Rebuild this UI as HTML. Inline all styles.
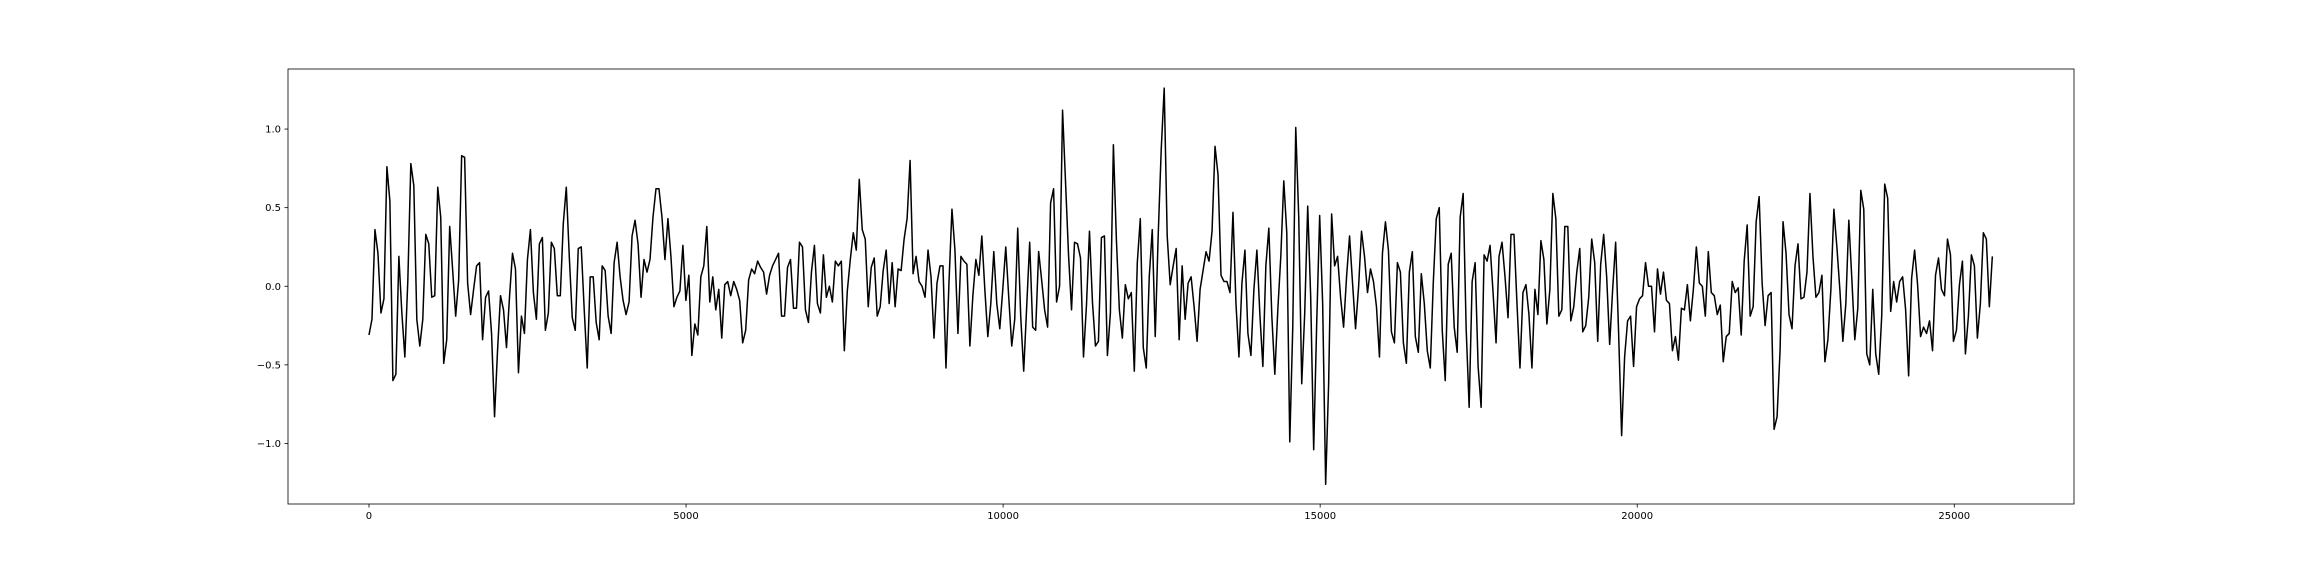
<!DOCTYPE html>
<html><head><meta charset="utf-8"><style>
html,body{margin:0;padding:0;background:#fff;}
svg{display:block;font-family:"DejaVu Sans","Liberation Sans",sans-serif;}
</style></head><body>
<svg id="chart" width="2304" height="576" viewBox="0 0 2304 576" xmlns="http://www.w3.org/2000/svg">
<rect x="0" y="0" width="2304" height="576" fill="#fff"/>
<g id="plot"></g>
</svg>
<script>
const xTicks = [0, 5000, 10000, 15000, 20000, 25000];
const xTickLabels = ["0", "5000", "10000", "15000", "20000", "25000"];
const yTicks = [-1.0, -0.5, 0.0, 0.5, 1.0];
const yTickLabels = ["\u22121.0", "\u22120.5", "0.0", "0.5", "1.0"];
const xMax = 25600;
const signalValues = [
-0.31,-0.21,0.36,0.21,-0.17,-0.08,0.76,0.54,-0.60,-0.56,
0.19,-0.17,-0.45,0.04,0.78,0.64,-0.21,-0.38,-0.21,0.33,
0.27,-0.07,-0.06,0.63,0.44,-0.49,-0.34,0.38,0.10,-0.19,
0.04,0.83,0.82,0.02,-0.18,-0.02,0.13,0.15,-0.34,-0.07,
-0.03,-0.30,-0.83,-0.41,-0.06,-0.15,-0.39,-0.07,0.21,0.11,
-0.55,-0.19,-0.30,0.17,0.36,-0.04,-0.21,0.27,0.31,-0.28,
-0.17,0.28,0.24,-0.06,-0.06,0.40,0.63,0.19,-0.20,-0.28,
0.24,0.25,-0.15,-0.52,0.06,0.06,-0.23,-0.34,0.13,0.10,
-0.19,-0.30,0.15,0.28,0.06,-0.09,-0.18,-0.10,0.32,0.42,
0.27,-0.07,0.17,0.09,0.17,0.44,0.62,0.62,0.44,0.17,
0.43,0.19,-0.13,-0.07,-0.03,0.26,-0.09,0.07,-0.44,-0.24,
-0.31,0.06,0.13,0.38,-0.10,0.06,-0.15,-0.02,-0.33,0.01,
0.03,-0.06,0.03,-0.02,-0.09,-0.36,-0.28,0.04,
0.11,0.08,0.16,0.12,0.09,-0.05,0.07,0.13,0.17,0.21,
-0.19,-0.19,0.12,0.17,-0.14,-0.14,0.28,0.25,-0.15,-0.23,
0.09,0.26,-0.11,-0.17,0.20,-0.07,0.00,-0.10,0.16,0.13,
0.16,-0.41,-0.03,0.17,0.34,0.23,0.68,0.36,0.30,-0.13,
0.12,0.18,-0.19,-0.13,0.10,0.23,-0.11,0.15,-0.13,0.11,
0.10,0.30,0.43,0.80,0.08,0.19,0.03,0.00,-0.07,0.23,
0.06,-0.33,0.02,0.13,0.13,-0.52,0.02,0.49,0.23,-0.30,
0.19,0.16,0.14,-0.38,-0.06,0.17,0.07,0.32,-0.02,-0.32,
-0.11,0.22,-0.11,-0.27,-0.02,0.25,-0.07,-0.38,-0.21,0.37,
-0.19,-0.54,-0.13,0.28,-0.26,-0.28,0.22,0.04,-0.15,-0.26,
0.53,0.62,-0.10,0.00,1.12,0.66,0.20,-0.15,0.28,0.27,
0.18,-0.45,-0.12,0.35,-0.10,-0.38,-0.35,0.31,0.32,-0.44,
-0.17,0.90,0.30,-0.15,-0.33,0.01,-0.08,-0.04,-0.54,0.15,
0.43,-0.39,-0.52,0.06,0.36,-0.32,0.33,0.87,1.26,0.32,
0.01,0.13,0.24,-0.34,0.13,-0.21,0.02,0.06,-0.13,-0.35,
-0.02,0.10,0.22,0.16,0.35,0.89,0.71,0.07,0.03,0.03,
-0.04,0.47,
-0.11,-0.45,0.02,0.23,-0.30,-0.44,-0.02,0.23,-0.18,-0.51,
0.13,0.37,-0.19,-0.56,-0.15,0.19,0.67,0.34,-0.99,-0.26,
1.01,0.44,-0.62,-0.17,0.51,-0.07,-1.04,-0.24,0.45,-0.11,
-1.26,-0.62,0.46,0.13,0.19,-0.07,-0.26,0.06,0.32,0.02,
-0.27,-0.01,0.35,0.19,-0.04,0.11,0.03,-0.13,-0.45,0.21,
0.41,0.23,-0.29,-0.36,0.15,0.09,-0.36,-0.49,0.09,0.22,
-0.32,-0.42,0.08,-0.11,-0.41,-0.52,0.02,0.43,0.50,-0.28,
-0.60,0.14,0.21,-0.26,-0.42,0.44,0.59,-0.27,-0.77,0.03,
0.15,-0.51,-0.77,0.20,0.16,0.26,-0.04,-0.36,0.19,0.28,
0.06,-0.20,0.33,0.33,-0.11,-0.52,-0.04,0.01,-0.18,-0.52,
-0.02,-0.18,0.29,0.17,-0.24,-0.02,0.59,0.43,-0.19,-0.15,
0.38,0.38,-0.22,-0.13,0.09,0.24,-0.29,-0.25,-0.07,0.30,
0.15,-0.35,0.14,0.33,0.06,-0.37,-0.02,0.28,-0.30,-0.95,
-0.45,-0.22,-0.19,-0.51,-0.13,-0.08,-0.06,0.15,0.00,0.00,
-0.29,0.11,-0.05,0.09,-0.09,-0.11,-0.41,-0.32,-0.47,-0.14,
-0.15,0.01,-0.22,-0.02,0.25,0.02,0.00,-0.19,0.22,-0.04,
-0.06,-0.18,-0.12,-0.48,
-0.32,-0.30,0.03,-0.04,-0.01,-0.31,0.16,0.39,-0.19,-0.13,
0.41,0.57,0.02,-0.25,-0.06,-0.04,-0.91,-0.83,-0.41,0.41,
0.21,-0.18,-0.27,0.13,0.27,-0.08,-0.07,0.09,0.59,0.19,
-0.07,-0.04,0.07,-0.48,-0.34,-0.02,0.49,0.25,-0.02,-0.35,
-0.11,0.42,0.05,-0.34,-0.14,0.61,0.49,-0.43,-0.50,-0.02,
-0.43,-0.56,-0.19,0.65,0.56,-0.16,0.03,-0.10,0.03,0.06,
-0.15,-0.57,0.05,0.23,0.01,-0.32,-0.26,-0.30,-0.22,-0.41,
0.07,0.18,-0.02,-0.06,0.30,0.20,-0.35,-0.28,0.01,0.16,
-0.43,-0.19,0.20,0.13,-0.33,-0.11,0.34,0.30,-0.13,0.19
];

const NS = "http://www.w3.org/2000/svg";
const plot = document.getElementById("plot");
const L = 288, R = 2074, T = 69, B = 504;
const X0 = -1277, X1 = 26888, Y0 = -1.385, Y1 = 1.382;
function sx(v){ return L + (v - X0) / (X1 - X0) * (R - L); }
function sy(v){ return B - (v - Y0) / (Y1 - Y0) * (B - T); }
function mk(tag, attrs){ const e = document.createElementNS(NS, tag); for (const k in attrs) e.setAttribute(k, attrs[k]); plot.appendChild(e); return e; }

const step = xMax / (signalValues.length - 1);
let d = "";
signalValues.forEach((v, i) => { d += (i ? "L" : "M") + sx(i * step).toFixed(2) + " " + sy(v).toFixed(2); });
const line = mk("path", {d: d, fill: "none", stroke: "#000", "stroke-width": 1.5, "stroke-linejoin": "round"});



xTicks.forEach((t, i) => {
  const x = sx(t);
  const tk = mk("line", {x1: x, x2: x, y1: B, y2: B + 3.5, stroke: "#000", "stroke-width": 0.8});
  
  
  const tx = mk("text", {x: x, y: B + 15, "font-size": 10, "text-anchor": "middle", fill: "#000"});
  tx.textContent = xTickLabels[i];
  
  
});
yTicks.forEach((t, i) => {
  const y = sy(t);
  const tk = mk("line", {x1: L - 3.5, x2: L, y1: y, y2: y, stroke: "#000", "stroke-width": 0.8});
  
  
  const tx = mk("text", {x: L - 7, y: y + 3.5, "font-size": 10, "text-anchor": "end", fill: "#000"});
  tx.textContent = yTickLabels[i];
  
  
});
const frame = mk("rect", {x: L, y: T, width: R - L, height: B - T, fill: "none", stroke: "#000", "stroke-width": 0.8});


</script>
</body></html>
